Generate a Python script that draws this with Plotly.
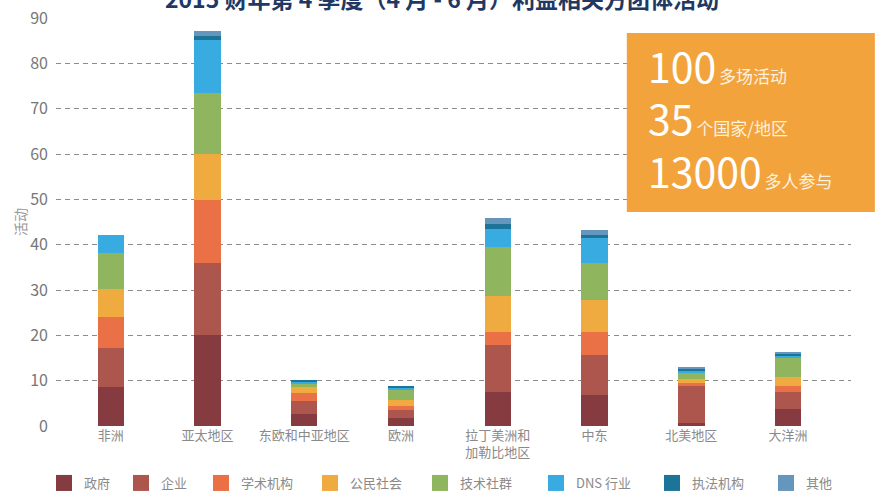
import plotly.graph_objects as go

categories = ["非洲", "亚太地区", "东欧和中亚地区", "欧洲", "拉丁美洲和<br>加勒比地区", "中东", "北美地区", "大洋洲"]
series_names = ["政府", "企业", "学术机构", "公民社会", "技术社群", "DNS 行业", "执法机构", "其他"]
colors = ["#853B40", "#AD564E", "#E97145", "#EFAA40", "#8FB55E", "#38ACE0", "#1E7398", "#6596BB"]

gov      = [8.6, 20.0, 2.6, 1.7, 7.4, 6.8, 0.6, 3.7]
business = [8.6, 15.9, 2.9, 1.9, 10.4, 8.8, 8.15, 3.75]
academia = [6.8, 13.9, 1.8, 0.75, 2.9, 5.1, 0.65, 1.3]
civil    = [6.2, 10.1, 1.3, 1.3, 7.9, 7.2, 0.9, 2.0]
tech     = [8.0, 13.5, 0.8, 2.2, 10.8, 8.0, 1.45, 4.25]
dns      = [3.9, 11.7, 0.3, 0.45, 4.0, 5.5, 0.45, 0.45]
law      = [0.0, 0.9, 0.45, 0.45, 1.1, 0.7, 0.3, 0.35]
other    = [0.0, 1.1, 0.0, 0.0, 1.3, 1.1, 0.45, 0.45]
series_values = [gov, business, academia, civil, tech, dns, law, other]

y_ticks = list(range(0, 100, 10))
stats = [("100", "多场活动"), ("35", "个国家/地区"), ("13000", "多人参与")]

FONT = "Noto Sans CJK SC"
W, H = 877, 493

# left edges (px) of legend swatches
legend_px = [56, 133, 213, 322, 432, 548, 664, 778]

fig = go.Figure()
for i, (name, vals, col) in enumerate(zip(series_names, series_values, colors)):
    lg = "legend" if i == 0 else f"legend{i + 1}"
    fig.add_trace(go.Bar(
        x=categories, y=vals, name=name, marker=dict(color=col, line=dict(width=0)),
        width=0.272, showlegend=False, legendgroup=name,
    ))
    fig.add_trace(go.Scatter(
        x=[None], y=[None], mode="markers", name=name, legendgroup=name, legend=lg,
        marker=dict(symbol="square", size=16, color=col), showlegend=True,
    ))

legend_layout = {}
for i, px in enumerate(legend_px):
    key = "legend" if i == 0 else f"legend{i + 1}"
    legend_layout[key] = dict(
        orientation="h", xref="container", yref="container",
        x=(px - 12) / W, xanchor="left", y=1 - 483 / H, yanchor="middle",
        font=dict(size=13, color="#8a8a8a", family=FONT), itemclick=False,
        bgcolor="rgba(0,0,0,0)",
    )

fig.update_layout(
    width=W, height=H,
    margin=dict(l=56, r=26, t=18, b=67),
    barmode="stack",
    plot_bgcolor="white", paper_bgcolor="white",
    font=dict(family=FONT, color="#888888"),
    title=dict(
        text="<b>2015 财年第 4 季度（4 月 - 6 月）利益相关方团体活动</b>",
        font=dict(family=FONT, size=23, color="#1F3864"),
        x=0.504, xanchor="center", yref="container", y=1.0, yanchor="middle",
    ),
    xaxis=dict(
        type="category", range=[-0.566, 7.65], showgrid=False, showline=False,
        zeroline=False, ticks="", tickfont=dict(size=13, color="#8a8a8a"), automargin=False,
    ),
    yaxis=dict(
        range=[0, 90], tickvals=y_ticks, showgrid=True, gridcolor="#8c8c8c",
        gridwidth=1.4, griddash="5px,4px", zeroline=False, showline=False,
        tickfont=dict(size=16, color="#777777"), ticklabelstandoff=7, automargin=False,
        title=dict(text="活动", font=dict(size=14, color="#999999"), standoff=0),
    ),
    showlegend=True,
    **legend_layout,
)

# orange info box
fig.add_shape(type="rect", xref="paper", yref="paper", x0=0.718, x1=1.03, y0=0.5245, y1=0.963,
              fillcolor="#F3A33C", line=dict(width=0), layer="above")
ys = [0.886, 0.757, 0.628]
for (num, label), yy in zip(stats, ys):
    fig.add_annotation(
        xref="paper", yref="paper", x=0.742, y=yy, xanchor="left", yanchor="middle",
        showarrow=False, align="left",
        text=f"<span style='font-size:41px'>{num}</span> <span style='font-size:17px;color:#FDF1DE'>{label}</span>",
        font=dict(family=FONT, color="white"),
    )

fig.write_html(
    "out.html",
    config={"displayModeBar": False},
    post_script="document.body.style.margin='0';document.body.style.overflow='hidden';",
)
